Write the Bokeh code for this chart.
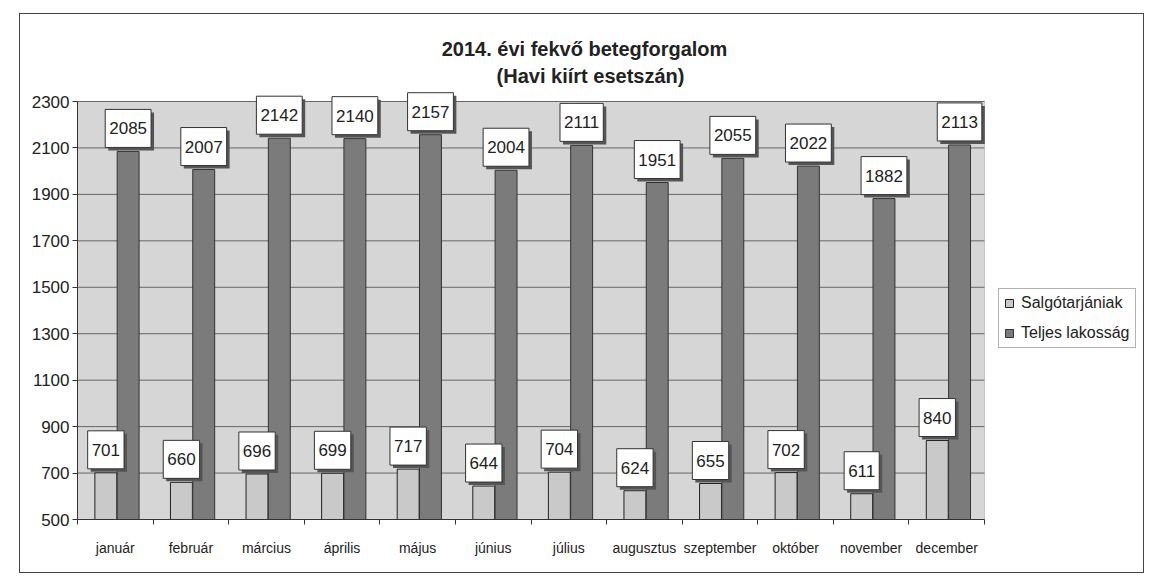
from bokeh.plotting import figure
from bokeh.models import (ColumnDataSource, Legend, LegendItem, FixedTicker,
                          Range1d, Label, BoxAnnotation)
from bokeh.core.properties import value
from bokeh.transform import dodge
from bokeh.embed import file_html
from bokeh.resources import INLINE

months = ["január", "február", "március", "április", "május", "június",
          "július", "augusztus", "szeptember", "október", "november", "december"]
salgotarjan = [701, 660, 696, 699, 717, 644, 704, 624, 655, 702, 611, 840]
teljes = [2085, 2007, 2142, 2140, 2157, 2004, 2111, 1951, 2055, 2022, 1882, 2113]
y_ticks = [500, 700, 900, 1100, 1300, 1500, 1700, 1900, 2100, 2300]
series_names = ["Salgótarjániak", "Teljes lakosság"]
title_lines = ["2014. évi fekvő betegforgalom", "(Havi kiírt esetszán)"]

FONT = "Liberation Sans"
TXT = "#222222"
LIGHT = "#c9c9c9"
DARK = "#7b7b7b"
PLOT_BG = "#d6d6d6"

# geometry (pixels)
W, H = 1123, 558
LEFT, RIGHT, TOP, BOTTOM = 57, 1, 1, 53
AREA_H = 418            # pixel height of the 500..2300 value area
AREA_W = 907            # pixel width of the 12 categories
frame_w = W - LEFT - RIGHT
frame_h = H - TOP - BOTTOM
n = len(months)
ppx_y = (y_ticks[-1] - y_ticks[0]) / AREA_H
ppx_x = n / AREA_W
y_end = y_ticks[0] + frame_h * ppx_y
x_end = frame_w * ppx_x

centers = [i + 0.5 for i in range(n)]
src = ColumnDataSource(dict(
    x=centers,
    s=salgotarjan,
    t=teljes,
    s_txt=[str(v) for v in salgotarjan],
    t_txt=[str(v) for v in teljes],
))

p = figure(width=W, height=H, output_backend="svg", toolbar_location=None,
           x_range=Range1d(0, x_end), y_range=Range1d(y_ticks[0], y_end),
           min_border_left=LEFT, min_border_right=RIGHT, min_border_top=TOP,
           min_border_bottom=BOTTOM)
p.margin = (14, 0, 0, 20)
p.styles = {"outline": "1px solid #444"}
p.background_fill_color = "white"
p.border_fill_color = "white"
p.outline_line_color = None
p.grid.visible = False

# plot area (value wall)
p.add_layout(BoxAnnotation(left=0, right=n, bottom=y_ticks[0], top=y_ticks[-1],
                           fill_color=PLOT_BG, fill_alpha=1,
                           line_color="#777777", line_width=1,
                           level="underlay"))

# horizontal gridlines
p.segment(x0=0, x1=n, y0=y_ticks, y1=y_ticks, line_color="#666666",
          line_width=1)

# titles
title_y = [y_ticks[-1] + 53 * ppx_y, y_ticks[-1] + 26 * ppx_y]
title_x = [507 * ppx_x, 513 * ppx_x]
for tx, ty, tt in zip(title_x, title_y, title_lines):
    p.add_layout(Label(x=tx, y=ty, text=tt, text_align="center",
                       text_baseline="middle", text_font=FONT,
                       text_font_size="20px", text_font_style="bold",
                       text_color=TXT))

bw = 0.29
r_s = p.vbar(x=dodge("x", -0.125, range=p.x_range), top="s", bottom=y_ticks[0],
             width=bw, source=src, fill_color=LIGHT, line_color="#222222",
             line_width=1)
r_t = p.vbar(x=dodge("x", 0.17, range=p.x_range), top="t", bottom=y_ticks[0],
             width=bw, source=src, fill_color=DARK, line_color="#333333",
             line_width=1)

pad = {"left": 4, "right": 4, "top": 13, "bottom": 13}
for off, col, tcol in [(-0.125, "s", "s_txt"), (0.17, "t", "t_txt")]:
    p.text(x=dodge("x", off, range=p.x_range), y=col, text=tcol, source=src,
           text_align="center", text_baseline="middle",
           x_offset=3, y_offset=-23 + 3, text_font=value(FONT),
           text_font_size="17px", text_alpha=0,
           background_fill_color="#555555", padding=pad)
    p.text(x=dodge("x", off, range=p.x_range), y=col, text=tcol, source=src,
           text_align="center", text_baseline="middle",
           y_offset=-23, text_font=value(FONT), text_font_size="17px",
           text_color=TXT, background_fill_color="white",
           border_line_color="#333333", border_line_width=1,
           padding=pad)

# axes
xa = p.xaxis[0]
xa.bounds = (0, n)
xa.ticker = FixedTicker(ticks=centers, minor_ticks=list(range(n + 1)))
xa.major_label_overrides = {c: m for c, m in zip(centers, months)}
xa.major_tick_line_color = None
xa.minor_tick_line_color = "#333333"
xa.minor_tick_out = 5
xa.minor_tick_in = 0
xa.major_label_standoff = 14
xa.major_label_text_font = FONT
xa.major_label_text_font_size = "14px"
xa.major_label_text_color = TXT
xa.axis_line_color = "#333333"

ya = p.yaxis[0]
ya.bounds = (y_ticks[0], y_ticks[-1])
ya.ticker = FixedTicker(ticks=y_ticks)
ya.minor_tick_line_color = None
ya.major_tick_out = 5
ya.major_tick_in = 0
ya.major_tick_line_color = "#333333"
ya.major_label_standoff = 3
ya.major_label_text_font = FONT
ya.major_label_text_font_size = "17px"
ya.major_label_text_color = TXT
ya.axis_line_color = "#333333"

legend = Legend(items=[LegendItem(label=series_names[0], renderers=[r_s]),
                       LegendItem(label=series_names[1], renderers=[r_t])],
                location=(921, 171), label_text_font=FONT,
                label_text_font_size="16px", label_text_color=TXT,
                glyph_width=10, glyph_height=10, label_height=18,
                label_standoff=7, spacing=12, padding=5, margin=0,
                border_line_color="#666666", background_fill_color="white",
                background_fill_alpha=1)
p.add_layout(legend)

open("out.html", "w").write(file_html(p, INLINE))
